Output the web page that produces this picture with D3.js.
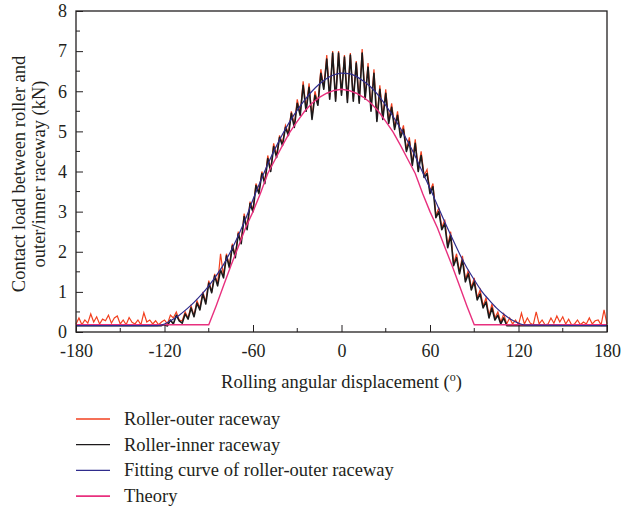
<!DOCTYPE html>
<html>
<head>
<meta charset="utf-8">
<script src="https://cdn.jsdelivr.net/npm/d3@7"></script>
<style>
  html, body { margin: 0; padding: 0; background: #fff; }
  svg text { font-family: "Liberation Serif", "DejaVu Serif", serif; fill: #231f20; }
</style>
</head>
<body>
<svg id="chart" width="622" height="511"></svg>
<script>
// Rolling angular displacement (deg) and contact loads (kN)
const outerAngles = [
  -180,-178,-176,-174,-172,-170,-168,-166,-164,-162,-160,-158,-156,-154,-152,-150,-148,-146,-144,-142,
  -140,-138,-136,-134,-132,-130,-128,-126,-124,-122,-120,-118,-116,-114,-112,-110,-108,-106,-104,-102,
  -100,-98,-96,-94,-92,-90,-88,-86,-84,-82,-80,-78,-76,-74,-72,-70,-68,-66,-64,-62,
  -60,-58,-56,-54,-52,-50,-48,-46,-44,-42,-40,-38,-36,-34,-32,-30,-28,-26,-24,-22,
  -20,-18,-16,-14,-12,-10,-8,-6,-4,-2,0,2,4,6,8,10,12,14,16,18,
  20,22,24,26,28,30,32,34,36,38,40,42,44,46,48,50,52,54,56,58,
  60,62,64,66,68,70,72,74,76,78,80,82,84,86,88,90,92,94,96,98,
  100,102,104,106,108,110,112,114,116,118,120,122,124,126,128,130,132,134,136,138,
  140,142,144,146,148,150,152,154,156,158,160,162,164,166,168,170,172,174,176,178,180
];
const outerLoad = [
  0.20,0.35,0.18,0.30,0.22,0.45,0.25,0.38,0.20,0.32,0.28,0.42,0.22,0.35,0.40,0.20,0.30,0.18,0.36,0.24,
  0.20,0.30,0.18,0.48,0.25,0.30,0.20,0.28,0.18,0.25,0.30,0.20,0.42,0.35,0.50,0.30,0.28,0.50,0.35,0.65,
  0.40,0.78,0.60,1.00,0.75,1.28,1.00,1.45,1.20,1.95,1.40,1.95,1.65,2.20,1.90,2.50,2.25,2.95,2.60,3.25,
  3.05,3.70,3.50,4.00,3.75,4.40,4.05,4.70,4.40,4.90,4.70,5.15,4.95,5.50,5.15,5.80,5.45,6.25,5.55,6.20,
  5.35,6.00,5.70,6.55,6.10,6.90,5.85,7.00,5.80,7.00,5.95,6.90,5.78,6.95,5.80,6.75,5.75,7.05,5.85,6.70,
  5.55,6.55,5.30,6.15,5.35,6.05,5.25,5.70,5.10,5.50,4.90,5.15,4.55,4.85,4.20,4.80,4.05,4.50,3.90,4.05,
  3.50,3.70,2.90,3.10,2.60,2.80,2.15,2.50,1.70,1.95,1.50,1.90,1.30,1.55,1.10,1.35,0.85,1.05,0.65,0.85,
  0.40,0.70,0.35,0.50,0.25,0.45,0.20,0.35,0.20,0.30,0.18,0.47,0.20,0.35,0.22,0.18,0.50,0.20,0.30,0.18,
  0.20,0.35,0.22,0.40,0.25,0.38,0.20,0.32,0.18,0.20,0.30,0.18,0.25,0.20,0.35,0.20,0.28,0.30,0.18,0.55,0.20
];

const innerAngles = [
  -180,-122,-120,-118,-116,-114,-112,-110,-108,-106,-104,-102,-100,-98,-96,-94,-92,-90,-88,-86,
  -84,-82,-80,-78,-76,-74,-72,-70,-68,-66,-64,-62,-60,-58,-56,-54,-52,-50,-48,-46,
  -44,-42,-40,-38,-36,-34,-32,-30,-28,-26,-24,-22,-20,-18,-16,-14,-12,-10,-8,-6,
  -4,-2,0,2,4,6,8,10,12,14,16,18,20,22,24,26,28,30,32,34,
  36,38,40,42,44,46,48,50,52,54,56,58,60,62,64,66,68,70,72,74,
  76,78,80,82,84,86,88,90,92,94,96,98,100,102,104,106,108,110,112,180
];
const innerLoad = [
  0.16,0.16,0.18,0.15,0.30,0.20,0.42,0.28,0.22,0.45,0.32,0.60,0.38,0.72,0.55,0.95,0.70,1.22,0.98,1.40,
  1.15,1.55,1.35,1.90,1.60,2.15,1.85,2.45,2.20,2.88,2.55,3.20,3.00,3.65,3.45,3.95,3.70,4.32,4.00,4.62,
  4.35,4.85,4.65,5.10,4.90,5.45,5.10,5.70,5.40,6.15,5.50,6.10,5.30,5.90,5.65,6.45,6.05,6.80,5.80,6.95,
  5.75,6.95,5.90,6.85,5.72,6.90,5.75,6.70,5.70,6.95,5.80,6.60,5.50,6.45,5.25,6.05,5.30,5.95,5.20,5.60,
  5.05,5.40,4.85,5.05,4.50,4.75,4.15,4.70,4.00,4.40,3.85,3.95,3.45,3.62,2.85,3.00,2.55,2.70,2.10,2.40,
  1.65,1.85,1.45,1.80,1.25,1.45,1.05,1.25,0.80,0.95,0.60,0.75,0.35,0.60,0.30,0.42,0.20,0.35,0.16,0.16
];

// Fitted curve of the roller-outer raceway load
const fitAngles = [
  -180,-125,-120,-115,-110,-105,-100,-95,-90,-85,-80,-75,-70,-65,-60,-55,-50,-45,-40,-35,-30,-25,-20,-15,-10,-5,
  0,5,10,15,20,25,30,35,40,45,50,55,60,65,70,75,80,85,90,95,100,105,110,115,120,125,180
];
const fitLoad = [
  0.16,0.16,0.20,0.30,0.42,0.57,0.74,0.93,1.15,1.40,1.68,2.02,2.40,2.82,3.30,3.75,4.18,4.57,4.93,5.25,5.53,5.78,6.00,6.18,6.32,6.41,
  6.45,6.44,6.37,6.25,6.10,5.90,5.65,5.37,5.07,4.74,4.38,3.98,3.58,3.16,2.74,2.34,1.95,1.60,1.30,1.02,0.80,0.60,0.44,0.31,0.22,0.17,0.16
];

// Theoretical load distribution
const theoryAngles = [
  -180,-90,-85,-80,-75,-70,-65,-60,-55,-50,-45,-40,-35,-30,-25,-20,-15,-10,-5,
  0,5,10,15,20,25,30,35,40,45,50,55,60,65,70,75,80,85,90,180
];
const theoryLoad = [
  0.18,0.18,0.65,1.15,1.65,2.12,2.60,3.00,3.45,3.95,4.30,4.65,4.98,5.25,5.50,5.70,5.85,5.95,6.02,
  6.05,6.02,5.95,5.85,5.70,5.50,5.25,4.98,4.65,4.30,3.95,3.45,3.00,2.60,2.12,1.65,1.15,0.65,0.18,0.18
];

const xTicks = [-180, -120, -60, 0, 60, 120, 180];
const xMinor = [-150, -90, -30, 30, 90, 150];
const yTicks = [0, 1, 2, 3, 4, 5, 6, 7, 8];
const yMinor = [0.5, 1.5, 2.5, 3.5, 4.5, 5.5, 6.5, 7.5];

const seriesNames = ["Roller-outer raceway", "Roller-inner raceway", "Fitting curve of roller-outer raceway", "Theory"];
const seriesColors = ["#f2401f", "#1c1a1b", "#2f2c8c", "#e8307e"];

const svg = d3.select("#chart");
const plotLeft = 76, plotRight = 607, plotTop = 11, plotBottom = 332;
const ink = "#231f20";

const x = d3.scaleLinear().domain([-180, 180]).range([plotLeft, plotRight]);
const y = d3.scaleLinear().domain([0, 8]).range([plotBottom, plotTop]);

const zip = (a, b) => a.map((v, i) => [v, b[i]]);
const line = d3.line().x(d => x(d[0])).y(d => y(d[1]));

const plot = svg.append("g");
plot.append("path").datum(zip(outerAngles, outerLoad))
  .attr("d", line).attr("fill", "none").attr("stroke", seriesColors[0]).attr("stroke-width", 1.2);
plot.append("path").datum(zip(innerAngles, innerLoad))
  .attr("d", line).attr("fill", "none").attr("stroke", seriesColors[1]).attr("stroke-width", 1.6)
  .attr("stroke-linejoin", "round");
plot.append("path").datum(zip(theoryAngles, theoryLoad))
  .attr("d", line).attr("fill", "none").attr("stroke", seriesColors[3]).attr("stroke-width", 1.4);
plot.append("path").datum(zip(fitAngles, fitLoad))
  .attr("d", d3.line().x(d => x(d[0])).y(d => y(d[1])).curve(d3.curveMonotoneX))
  .attr("fill", "none").attr("stroke", seriesColors[2]).attr("stroke-width", 1.2);

// Frame
svg.append("rect").attr("x", plotLeft).attr("y", plotTop)
  .attr("width", plotRight - plotLeft).attr("height", plotBottom - plotTop)
  .attr("fill", "none").attr("stroke", ink).attr("stroke-width", 1.3);

// Bottom axis with inward ticks
const xAxis = svg.append("g").attr("transform", `translate(0,${plotBottom})`)
  .call(d3.axisBottom(x).tickValues(xTicks).tickSize(-7).tickPadding(12).tickFormat(d => String(d)));
xAxis.append("g").selectAll("line").data(xMinor).join("line")
  .attr("x1", d => x(d)).attr("x2", d => x(d)).attr("y1", 0).attr("y2", -4).attr("stroke", ink);
xAxis.select(".domain").remove();
xAxis.selectAll(".tick line").attr("stroke", ink);
xAxis.selectAll("text").attr("font-size", 18).attr("font-family", "Liberation Serif").attr("fill", ink);

// Left axis with inward ticks
const yAxis = svg.append("g").attr("transform", `translate(${plotLeft},0)`)
  .call(d3.axisLeft(y).tickValues(yTicks).tickSize(-7).tickPadding(9).tickFormat(d => String(d)));
yAxis.append("g").selectAll("line").data(yMinor).join("line")
  .attr("y1", d => y(d)).attr("y2", d => y(d)).attr("x1", 0).attr("x2", 4).attr("stroke", ink);
yAxis.select(".domain").remove();
yAxis.selectAll(".tick line").attr("stroke", ink);
yAxis.selectAll("text").attr("font-size", 18).attr("font-family", "Liberation Serif").attr("fill", ink);

// Axis titles
const xt = svg.append("text").attr("x", (plotLeft + plotRight) / 2).attr("y", 388)
  .attr("text-anchor", "middle").attr("font-size", 18.5);
xt.append("tspan").text("Rolling angular displacement (");
xt.append("tspan").attr("baseline-shift", "super").attr("font-size", 12).text("o");
xt.append("tspan").text(")");

const yt = svg.append("text").attr("transform", "translate(25,174) rotate(-90)")
  .attr("text-anchor", "middle").attr("font-size", 18.5);
yt.append("tspan").attr("x", 0).attr("dy", 0).text("Contact load between roller and");
yt.append("tspan").attr("x", 0).attr("dy", 20).text("outer/inner raceway (kN)");

// Legend
const legend = svg.append("g");
seriesNames.forEach((name, i) => {
  const ly = 419 + i * 25.7;
  legend.append("line").attr("x1", 76).attr("x2", 110).attr("y1", ly).attr("y2", ly)
    .attr("stroke", seriesColors[i]).attr("stroke-width", i === 3 ? 1.8 : 1.3);
  legend.append("text").attr("x", 124).attr("y", ly + 6).attr("font-size", 18.5).text(name);
});
</script>
</body>
</html>
